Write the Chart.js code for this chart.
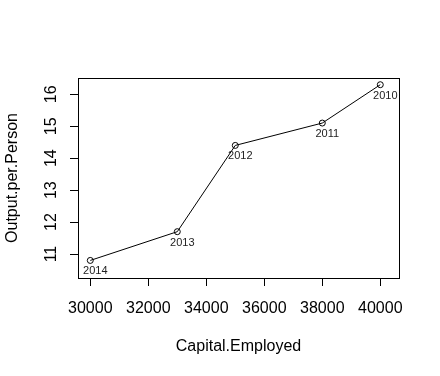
<!DOCTYPE html>
<html>
<head>
<meta charset="utf-8">
<script src="https://cdn.jsdelivr.net/npm/chart.js@4/dist/chart.umd.min.js"></script>
<style>
  html, body { margin: 0; padding: 0; background: #fff; }
  #wrap { width: 440px; height: 376px; }
</style>
</head>
<body>
<div id="wrap"><canvas id="plot" width="440" height="376"></canvas></div>
<script>
// Data
const years = ['2014', '2013', '2012', '2011', '2010'];
const capitalEmployed = [30000, 33000, 35000, 38000, 40000];
const outputPerPerson = [10.8, 11.7, 14.4, 15.1, 16.3];
const xTicks = [30000, 32000, 34000, 36000, 38000, 40000];
const yTicks = [11, 12, 13, 14, 15, 16];

const FONT = 'Arial, "Liberation Sans", sans-serif';

// box around the plot region plus rotated y labels and point labels
const rPlot = {
    id: 'rPlot',
    afterDraw(chart) {
        const ctx = chart.ctx;
        const a = chart.chartArea;
        ctx.save();
        ctx.strokeStyle = '#000';
        ctx.lineWidth = 1;
        ctx.strokeRect(Math.round(a.left) + 0.5, Math.round(a.top) + 0.5,
            Math.round(a.right - a.left), Math.round(a.bottom - a.top));

        // y tick labels, vertical like R's default las=0
        const ys = chart.scales.y;
        ctx.fillStyle = '#000';
        ctx.font = '16px ' + FONT;
        ctx.textAlign = 'center';
        ctx.textBaseline = 'middle';
        yTicks.forEach(v => {
            const py = ys.getPixelForValue(v);
            ctx.save();
            ctx.translate(52, py);
            ctx.rotate(-Math.PI / 2);
            ctx.fillText(String(v), 0, 0);
            ctx.restore();
        });

        // year labels under each point
        const meta = chart.getDatasetMeta(0);
        ctx.font = '11px ' + FONT;
        ctx.fillStyle = '#222';
        meta.data.forEach((pt, i) => {
            ctx.fillText(years[i], pt.x + 5, pt.y + 11);
        });
        ctx.restore();
    }
};

const ctx = document.getElementById('plot').getContext('2d');
new Chart(ctx, {
    type: 'scatter',
    data: {
        datasets: [{
            data: capitalEmployed.map((x, i) => ({ x: x, y: outputPerPerson[i] })),
            showLine: true,
            borderColor: '#000',
            borderWidth: 1,
            pointRadius: 3,
            pointBorderColor: '#000',
            pointBackgroundColor: 'rgba(0,0,0,0)',
            pointBorderWidth: 1
        }]
    },
    options: {
        responsive: false,
        animation: false,
        events: [],
        layout: { padding: { left: 0, top: 78, right: 41, bottom: 0 } },
        plugins: {
            legend: { display: false },
            tooltip: { enabled: false }
        },
        scales: {
            x: {
                type: 'linear',
                min: 29576,
                max: 40645,
                afterBuildTicks: s => { s.ticks = xTicks.map(v => ({ value: v })); },
                afterFit: s => { s.height = 98; },
                border: { display: false },
                grid: { drawOnChartArea: false, drawTicks: true, tickLength: 8, color: '#000' },
                ticks: {
                    color: '#000',
                    font: { family: FONT, size: 16 },
                    padding: 13,
                    maxRotation: 0,
                    autoSkip: false,
                    callback: v => String(v)
                },
                title: {
                    display: true,
                    text: 'Capital.Employed',
                    color: '#000',
                    font: { family: FONT, size: 16 },
                    padding: { top: 0, bottom: 20 }
                }
            },
            y: {
                type: 'linear',
                min: 10.25,
                max: 16.51,
                afterBuildTicks: s => { s.ticks = yTicks.map(v => ({ value: v })); },
                afterFit: s => { s.width = 78; },
                border: { display: false },
                grid: { drawOnChartArea: false, drawTicks: true, tickLength: 8, color: '#000' },
                ticks: { color: 'rgba(0,0,0,0)', font: { family: FONT, size: 16 }, autoSkip: false },
                title: {
                    display: true,
                    text: 'Output.per.Person',
                    color: '#000',
                    font: { family: FONT, size: 16 },
                    padding: { top: 3, bottom: 0 }
                }
            }
        }
    },
    plugins: [rPlot]
});
</script>
</body>
</html>
